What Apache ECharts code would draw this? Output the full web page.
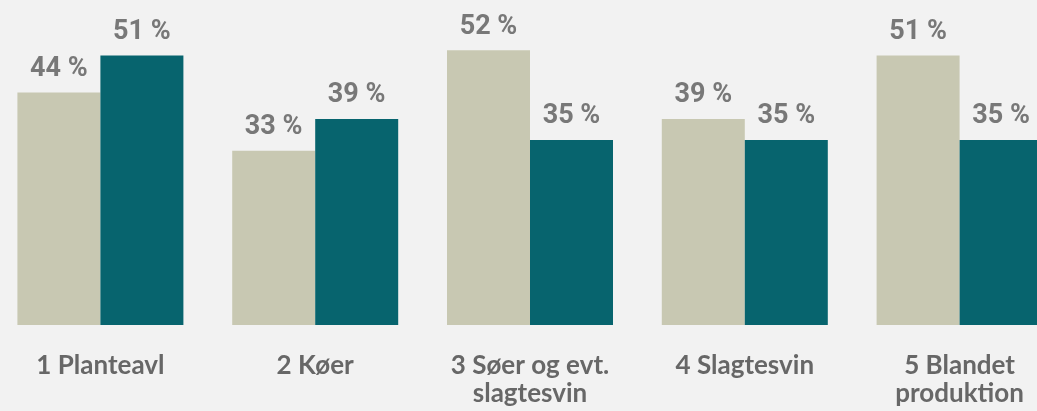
<!DOCTYPE html>
<html><head><meta charset="utf-8">
<script src="https://cdn.jsdelivr.net/npm/echarts@6/dist/echarts.min.js"></script>
<style>html,body{margin:0;padding:0;background:#f2f2f2;overflow:hidden;width:1037px;height:411px}#c{width:1074px;height:411px;margin-left:-7px}</style>
</head><body><div id="c"></div>
<script>
const categories = ['1 Planteavl', '2 Køer', '3 Søer og evt.\nslagtesvin', '4 Slagtesvin', '5 Blandet\nproduktion'];
const seriesA = [44, 33, 52, 39, 51];
const seriesB = [51, 39, 35, 35, 35];
const chart = echarts.init(document.getElementById('c'));
const lbl = {
  show: true, position: 'top', distance: 10,
  formatter: p => p.value + ' %',
  fontFamily: 'Roboto', fontWeight: 'bold', fontSize: 27, color: '#787878'
};
chart.setOption({
  backgroundColor: '#f2f2f2',
  animation: false,
  grid: { left: 0, right: 0, top: 8, bottom: 86, containLabel: false },
  xAxis: {
    type: 'category', data: categories,
    axisLine: { show: false }, axisTick: { show: false },
    axisLabel: { margin: 27, fontFamily: 'Lato', fontWeight: 'bold', fontSize: 26, lineHeight: 28, color: '#676767', interval: 0 }
  },
  yAxis: { type: 'value', min: 0, max: 60, show: false, splitLine: { show: false } },
  series: [
    { type: 'bar', data: seriesA, barWidth: 83, barGap: '0%', itemStyle: { color: '#c8c8b2' }, label: lbl },
    { type: 'bar', data: seriesB, barWidth: 83, barGap: '0%', itemStyle: { color: '#07646e' }, label: lbl }
  ]
});
</script></body></html>
